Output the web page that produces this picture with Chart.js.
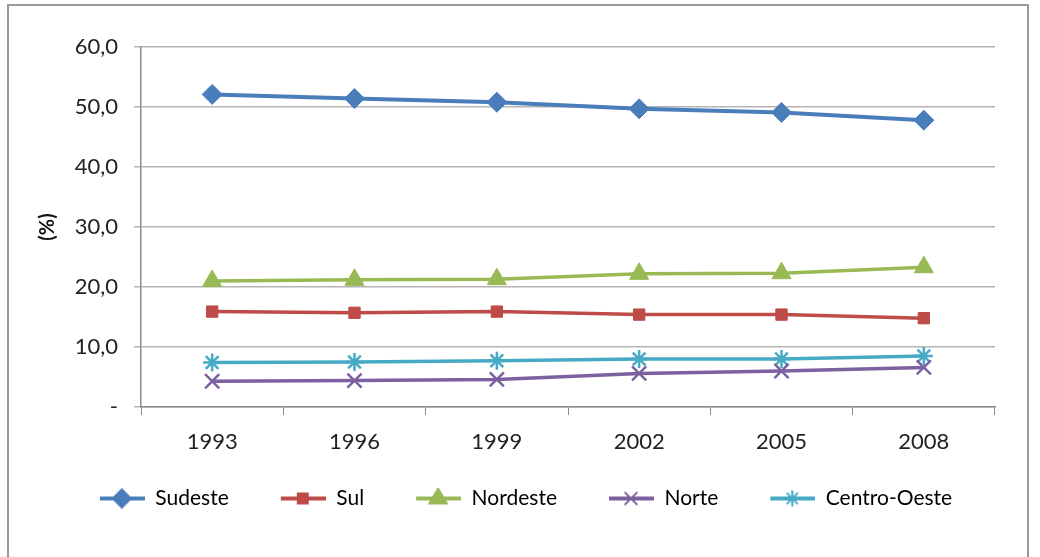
<!DOCTYPE html>
<html>
<head>
<meta charset="utf-8">
<script src="https://cdn.jsdelivr.net/npm/chart.js@4/dist/chart.umd.min.js"></script>
<style>
  html, body { margin: 0; padding: 0; background: #fff; }
  #frame {
    position: absolute; left: 7px; top: 4px; width: 1022px; height: 560px;
    border: 2px solid #9a9a9a; border-bottom: none; box-sizing: border-box;
  }
  #wrap { position: absolute; left: 0; top: 0; width: 1040px; height: 557px; }
</style>
</head>
<body>
<div id="frame"></div>
<div id="wrap"><canvas id="chart" width="1040" height="557"></canvas></div>
<script>
const years = ["1993", "1996", "1999", "2002", "2005", "2008"];
const sudeste = [52.1, 51.4, 50.8, 49.7, 49.1, 47.8];
const sul = [15.9, 15.7, 15.9, 15.4, 15.4, 14.8];
const nordeste = [21.0, 21.2, 21.3, 22.2, 22.3, 23.3];
const norte = [4.3, 4.4, 4.6, 5.6, 6.0, 6.6];
const centroOeste = [7.4, 7.5, 7.7, 8.0, 8.0, 8.5];
const yTicks = [0, 10, 20, 30, 40, 50, 60];

const fontFamily = "'Lato', sans-serif";

// series look: color, marker, size
const series = [
  { label: "Sudeste", data: sudeste, color: "#4a7ebb", style: "rectRot", radius: 10, width: 4 },
  { label: "Sul", data: sul, color: "#be4b48", style: "rect", radius: 8, width: 3.5 },
  { label: "Nordeste", data: nordeste, color: "#98b954", style: "triangle", radius: 11, width: 3.5 },
  { label: "Norte", data: norte, color: "#7d60a0", style: "crossRot", radius: 10, width: 3.5 },
  { label: "Centro-Oeste", data: centroOeste, color: "#46aac5", style: "star", radius: 9, width: 3.5 }
];

const iconGap = 20; // blank space left of each legend icon

// small image with line + marker for the legend
function legendIcon(s) {
  const c = document.createElement("canvas");
  c.width = 46 + iconGap; c.height = 22;
  const ctx = c.getContext("2d");
  ctx.strokeStyle = s.color;
  ctx.lineWidth = 4;
  ctx.beginPath();
  ctx.moveTo(iconGap + 1, 11);
  ctx.lineTo(iconGap + 46, 11);
  ctx.stroke();
  ctx.fillStyle = s.color;
  ctx.lineWidth = 2;
  Chart.helpers.drawPoint(ctx, {
    pointStyle: s.style, radius: s.radius - 1, rotation: 0, borderWidth: 2
  }, iconGap + 23, 11);
  return c;
}

const datasets = series.map(function (s) {
  return {
    label: s.label,
    data: s.data,
    borderColor: s.color,
    backgroundColor: s.color,
    borderWidth: s.width,
    pointStyle: s.style,
    pointRadius: s.radius,
    pointHoverRadius: s.radius,
    pointBackgroundColor: s.color,
    pointBorderColor: s.color,
    pointBorderWidth: (s.style === "crossRot" || s.style === "star") ? 2.5 : 1,
    tension: 0
  };
});

const ctx = document.getElementById("chart").getContext("2d");
new Chart(ctx, {
  type: "line",
  data: { labels: years, datasets: datasets },
  options: {
    responsive: false,
    animation: false,
    layout: { padding: { left: 36, right: 45, top: 47, bottom: 38 } },
    plugins: {
      tooltip: { enabled: false },
      legend: {
        display: true,
        position: "bottom",
        labels: {
          usePointStyle: true,
          pointStyleWidth: 46 + iconGap,
          boxHeight: 22,
          padding: 31,
          color: "#222",
          font: { family: fontFamily, size: 21 },
          generateLabels: function (chart) {
            return series.map(function (s, i) {
              return {
                text: s.label,
                pointStyle: legendIcon(s),
                fillStyle: s.color,
                strokeStyle: s.color,
                lineWidth: 0,
                datasetIndex: i,
                hidden: false
              };
            });
          }
        }
      }
    },
    scales: {
      x: {
        offset: true,
        grid: {
          display: true,
          drawOnChartArea: false,
          drawTicks: true,
          tickLength: 8,
          color: "#8c8c8c",
          offset: true
        },
        border: { display: true, color: "#8c8c8c", width: 1.5 },
        ticks: {
          padding: 14,
          color: "#222",
          font: { family: fontFamily, size: 22 }
        },
        afterFit: function (scale) { scale.height = 50; }
      },
      y: {
        min: 0,
        max: 60,
        afterBuildTicks: function (scale) {
          scale.ticks = yTicks.map(function (v) { return { value: v }; });
        },
        grid: {
          color: "#b4b4b4",
          lineWidth: 1.5,
          tickLength: 7
        },
        border: { display: true, color: "#8c8c8c", width: 1.5 },
        ticks: {
          padding: 16,
          color: "#222",
          font: { family: fontFamily, size: 22 },
          callback: function (v) {
            if (v === 0) return "-";
            return v.toFixed(1).replace(".", ",");
          }
        },
        title: {
          display: true,
          text: "(%)",
          color: "#111",
          padding: { top: 0, bottom: 8 },
          font: { family: fontFamily, size: 20, weight: "bold" }
        },
        afterFit: function (scale) { scale.width = 105; }
      }
    }
  }
});
</script>
</body>
</html>
